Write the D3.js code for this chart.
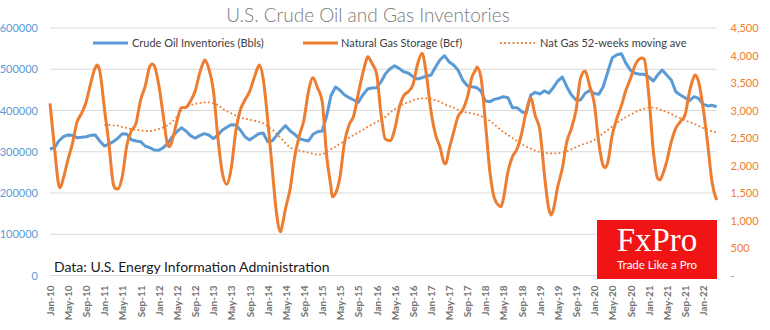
<!DOCTYPE html>
<html>
<head>
<meta charset="utf-8">
<script src="https://cdn.jsdelivr.net/npm/d3@7"></script>
<style>
body { margin: 0; background: #fff; }
</style>
</head>
<body>
<div class="chart-container"></div>
<script>
const width = 770;
const height = 330;
const plotLeft = 50;
const plotRight = 716.6;
const plotTop = 28;
const plotBottom = 275.5;
const baseFont = "Lato, 'Open Sans', sans-serif";

// monthly readings, first value is Jan 2010
const startMonth = new Date(2010, 0, 1);
const monthCount = 147;

// crude oil inventories (thousand bbls), monthly
const oilValues = [
  306700, 309900, 326000, 336500, 340600, 339800, 334000, 335000, 336500, 339800, 340600, 326000,
  313900, 318800, 324400, 332600, 343800, 342300, 329200, 326000, 324400, 313900, 309900, 304200,
  303500, 309900, 320500, 336500, 348600, 358000, 350300, 339000, 332600, 339000, 343800, 340600,
  331700, 340600, 352000, 359200, 365600, 364800, 352700, 336500, 328500, 335700, 343800, 345400,
  324400, 326800, 339000, 352700, 363200, 350300, 342300, 331700, 328500, 326000, 342300, 348600,
  350000, 387400, 435900, 457000, 449000, 437600, 431000, 425400, 419800, 437600, 452000, 454500,
  455300, 469800, 489200, 501300, 508600, 502200, 494000, 490900, 482000, 476400, 479500, 483600,
  486000, 506200, 522400, 532800, 518300, 510300, 498000, 474000, 460000, 457700, 456000, 447300,
  423000, 421400, 427000, 429600, 433500, 431000, 406800, 406800, 397000, 393000, 437600, 444000,
  440000, 448000, 441700, 455300, 471500, 481200, 457700, 437600, 425400, 425400, 441700, 448500,
  441000, 439300, 457700, 494000, 528000, 535300, 537700, 514300, 497400, 490100, 487700, 487700,
  481200, 471500, 486000, 498200, 486000, 474000, 445600, 437600, 431000, 423800, 433500, 429600,
  415000, 411000, 412600, 409200
];

// natural gas storage (Bcf), monthly
const gasValues = [
  3130, 2300, 1645, 1772, 2100, 2403, 2785, 2949, 3160, 3494, 3778, 3718,
  3040, 2373, 1676, 1573, 1797, 2373, 2627, 2767, 3190, 3433, 3797, 3815,
  3463, 2888, 2373, 2463, 2797, 3050, 3058, 3172, 3354, 3676, 3905, 3767,
  3372, 2494, 1887, 1658, 1949, 2627, 3009, 3190, 3342, 3585, 3809, 3585,
  2827, 1918, 1131, 827, 1222, 1585, 2160, 2542, 2827, 3342, 3596, 3414,
  3170, 2160, 1615, 1494, 1797, 2433, 2736, 2905, 3312, 3676, 3967, 3858,
  3676, 2918, 2476, 2451, 2645, 3040, 3269, 3342, 3463, 3827, 4040, 3645,
  2978, 2554, 2342, 2040, 2282, 2600, 2890, 3009, 3233, 3596, 3767, 3614,
  2767, 1858, 1414, 1269, 1391, 1887, 2160, 2300, 2585, 2978, 3221, 2905,
  2645, 1827, 1222, 1191, 1615, 1949, 2433, 2676, 3009, 3585, 3718, 3450,
  3130, 2403, 1996, 2058, 2554, 2858, 3087, 3372, 3585, 3827, 3942, 3936,
  3281, 2251, 1767, 1815, 2069, 2433, 2676, 2797, 2918, 3342, 3614, 3524,
  3040, 2373, 1705, 1373
];

// seasonal highs and lows of gas storage between month starts
const gasTurnDates = [
  "2010-03-10", "2010-11-13", "2011-03-15", "2011-11-15", "2012-03-13", "2012-11-04",
  "2013-11-07", "2014-03-28", "2015-03-10", "2015-11-04", "2017-04-10", "2017-11-04",
  "2018-04-15", "2019-03-18", "2020-03-13", "2020-11-15", "2021-03-15", "2021-11-07"
];
const gasTurnValues = [
  1596, 3827, 1585, 3845, 2342, 3918,
  3827, 796, 1433, 3978, 2030, 3790,
  1251, 1100, 1960, 3955, 1736, 3645
];

// 52-week moving average of gas storage, monthly from Jan 2011
const movingAvgStart = new Date(2011, 0, 1);
const movingAvgValues = [
  2736, 2736, 2730, 2724, 2700, 2682, 2663, 2651, 2639, 2627, 2627, 2639,
  2663, 2694, 2736, 2797, 2887, 2997, 3051, 3094, 3118, 3136, 3148, 3148,
  3130, 3100, 3040, 2991, 2949, 2906, 2870, 2851, 2833, 2815, 2797, 2767,
  2706, 2651, 2579, 2494, 2403, 2330, 2288, 2270, 2251, 2233, 2215, 2197,
  2205, 2251, 2294, 2342, 2396, 2451, 2506, 2554, 2603, 2645, 2700, 2742,
  2791, 2833, 2887, 2960, 3021, 3076, 3124, 3148, 3185, 3209, 3221, 3221,
  3209, 3185, 3160, 3118, 3082, 3051, 3009, 2979, 2960, 2948, 2930, 2900,
  2858, 2809, 2748, 2676, 2609, 2554, 2500, 2445, 2391, 2342, 2306, 2270,
  2245, 2233, 2221, 2221, 2221, 2239, 2257, 2294, 2330, 2367, 2397, 2427,
  2463, 2524, 2585, 2645, 2712, 2772, 2827, 2882, 2924, 2966, 3009, 3033,
  3051, 3051, 3033, 3003, 2973, 2936, 2894, 2858, 2821, 2791, 2760, 2718,
  2682, 2651, 2621, 2603
];

const oilTicks = [0, 100000, 200000, 300000, 400000, 500000, 600000];
const gasTicks = [0, 500, 1000, 1500, 2000, 2500, 3000, 3500, 4000, 4500];
const tickMonthStep = 4;

const legendLabels = ["Crude Oil Inventories (Bbls)", "Natural Gas Storage (Bcf)", "Nat Gas 52-weeks moving ave"];
const titleText = "U.S. Crude Oil and Gas Inventories";
const sourceText = "Data: U.S. Energy Information Administration";

const blue = "#5b9bd5";
const orange = "#ed7d31";
const gridColor = "#d9d9d9";

let svg, x, yOil, yGas;

function buildSeries() {
    const parse = d3.timeParse("%Y-%m-%d");
    const oil = oilValues.map((v, i) => ({ date: d3.timeMonth.offset(startMonth, i), value: v }));
    const gasMonthly = gasValues.map((v, i) => ({ date: d3.timeMonth.offset(startMonth, i), value: v }));
    const gasTurns = gasTurnDates.map((d, i) => ({ date: parse(d), value: gasTurnValues[i] }));
    const gas = gasMonthly.concat(gasTurns).sort((a, b) => a.date - b.date);
    const avg = movingAvgValues.map((v, i) => ({ date: d3.timeMonth.offset(movingAvgStart, i), value: v }));
    return { oil, gas, avg };
}

function initialiseSVG() {
    svg = d3.select(".chart-container").append("svg")
        .attr("width", width)
        .attr("height", height)
        .style("font-family", baseFont);

    svg.append("rect")
        .attr("width", width)
        .attr("height", height)
        .attr("fill", "#fff");

    x = d3.scaleTime()
        .domain([startMonth, d3.timeMonth.offset(startMonth, monthCount)])
        .range([plotLeft, plotRight]);

    yOil = d3.scaleLinear().domain([0, 600000]).range([plotBottom, plotTop]);
    yGas = d3.scaleLinear().domain([0, 4500]).range([plotBottom, plotTop]);
}

function drawAxes() {
    // horizontal gridlines off the left axis
    svg.append("g")
        .selectAll("line")
        .data(oilTicks)
        .join("line")
        .attr("x1", plotLeft)
        .attr("x2", plotRight)
        .attr("y1", d => yOil(d))
        .attr("y2", d => yOil(d))
        .attr("stroke", gridColor)
        .attr("stroke-width", 1);

    const left = svg.append("g")
        .attr("transform", `translate(${plotLeft},0)`)
        .call(d3.axisLeft(yOil).tickValues(oilTicks).tickFormat(d3.format("d")).tickSize(0).tickPadding(12));
    left.select(".domain").remove();
    left.selectAll("text")
        .attr("fill", blue)
        .style("font-family", baseFont)
        .style("font-size", "11px");

    const right = svg.append("g")
        .attr("transform", `translate(${plotRight},0)`)
        .call(d3.axisRight(yGas).tickValues(gasTicks)
            .tickFormat(d => d === 0 ? "-" : d3.format(",")(d))
            .tickSize(0).tickPadding(14));
    right.select(".domain").remove();
    right.selectAll("text")
        .attr("fill", orange)
        .style("font-family", baseFont)
        .style("font-size", "11px");

    const bottom = svg.append("g")
        .attr("transform", `translate(0,${plotBottom})`)
        .call(d3.axisBottom(x).ticks(d3.timeMonth.every(tickMonthStep))
            .tickFormat(d3.timeFormat("%b-%y")).tickSize(0));
    bottom.select(".domain").remove();
    bottom.selectAll("text")
        .attr("transform", "rotate(-90)")
        .attr("text-anchor", "end")
        .attr("x", -10)
        .attr("y", 0)
        .attr("dy", "0.35em")
        .attr("fill", "#737373")
        .style("font-family", baseFont)
        .style("font-weight", "bold")
        .style("font-size", "10px");
}

function drawLines(series) {
    const oilLine = d3.line()
        .x(d => x(d.date))
        .y(d => yOil(d.value));

    const gasLine = d3.line()
        .curve(d3.curveMonotoneX)
        .x(d => x(d.date))
        .y(d => yGas(d.value));

    svg.append("path")
        .datum(series.oil)
        .attr("d", oilLine)
        .attr("fill", "none")
        .attr("stroke", blue)
        .attr("stroke-width", 3)
        .attr("stroke-linejoin", "round");

    svg.append("path")
        .datum(series.gas)
        .attr("d", gasLine)
        .attr("fill", "none")
        .attr("stroke", orange)
        .attr("stroke-width", 3)
        .attr("stroke-linejoin", "round");

    svg.append("path")
        .datum(series.avg)
        .attr("d", gasLine)
        .attr("fill", "none")
        .attr("stroke", orange)
        .attr("stroke-width", 1.8)
        .attr("stroke-dasharray", "1.8,2.4");
}

function drawLegend() {
    const items = [
        { x: 93, textX: 132, color: blue, dash: null, width: 3 },
        { x: 303, textX: 341, color: orange, dash: null, width: 3 },
        { x: 500, textX: 540, color: orange, dash: "1.8,2.4", width: 1.8 }
    ];
    const legendY = 43;

    items.forEach((item, i) => {
        svg.append("line")
            .attr("x1", item.x)
            .attr("x2", item.x + 35)
            .attr("y1", legendY)
            .attr("y2", legendY)
            .attr("stroke", item.color)
            .attr("stroke-width", item.width)
            .attr("stroke-dasharray", item.dash);

        svg.append("text")
            .attr("x", item.textX)
            .attr("y", legendY)
            .attr("dy", "0.35em")
            .attr("fill", "#404040")
            .style("font-size", "11px")
            .text(legendLabels[i]);
    });
}

function drawLabels() {
    svg.append("text")
        .attr("x", 368)
        .attr("y", 22)
        .attr("text-anchor", "middle")
        .attr("fill", "#7a7a7a")
        .style("font-size", "19px")
        .style("font-weight", "300")
        .text(titleText);

    svg.append("text")
        .attr("x", 54)
        .attr("y", 272)
        .attr("fill", "#1a1a1a")
        .style("font-size", "14px")
        .text(sourceText);

    // FxPro badge
    const badge = svg.append("g");
    badge.append("rect")
        .attr("x", 597)
        .attr("y", 220)
        .attr("width", 120)
        .attr("height", 59)
        .attr("fill", "#f01414");
    badge.append("text")
        .attr("x", 657)
        .attr("y", 251)
        .attr("text-anchor", "middle")
        .attr("fill", "#fff")
        .style("font-family", "'Liberation Serif', 'DejaVu Serif', serif")
        .style("font-size", "33px")
        .text("FxPro");
    badge.append("text")
        .attr("x", 657)
        .attr("y", 269)
        .attr("text-anchor", "middle")
        .attr("fill", "#fff")
        .style("font-size", "11.5px")
        .text("Trade Like a Pro");
}

function initialise() {
    const series = buildSeries();
    initialiseSVG();
    drawAxes();
    drawLines(series);
    drawLegend();
    drawLabels();
}

initialise();
</script>
</body>
</html>
